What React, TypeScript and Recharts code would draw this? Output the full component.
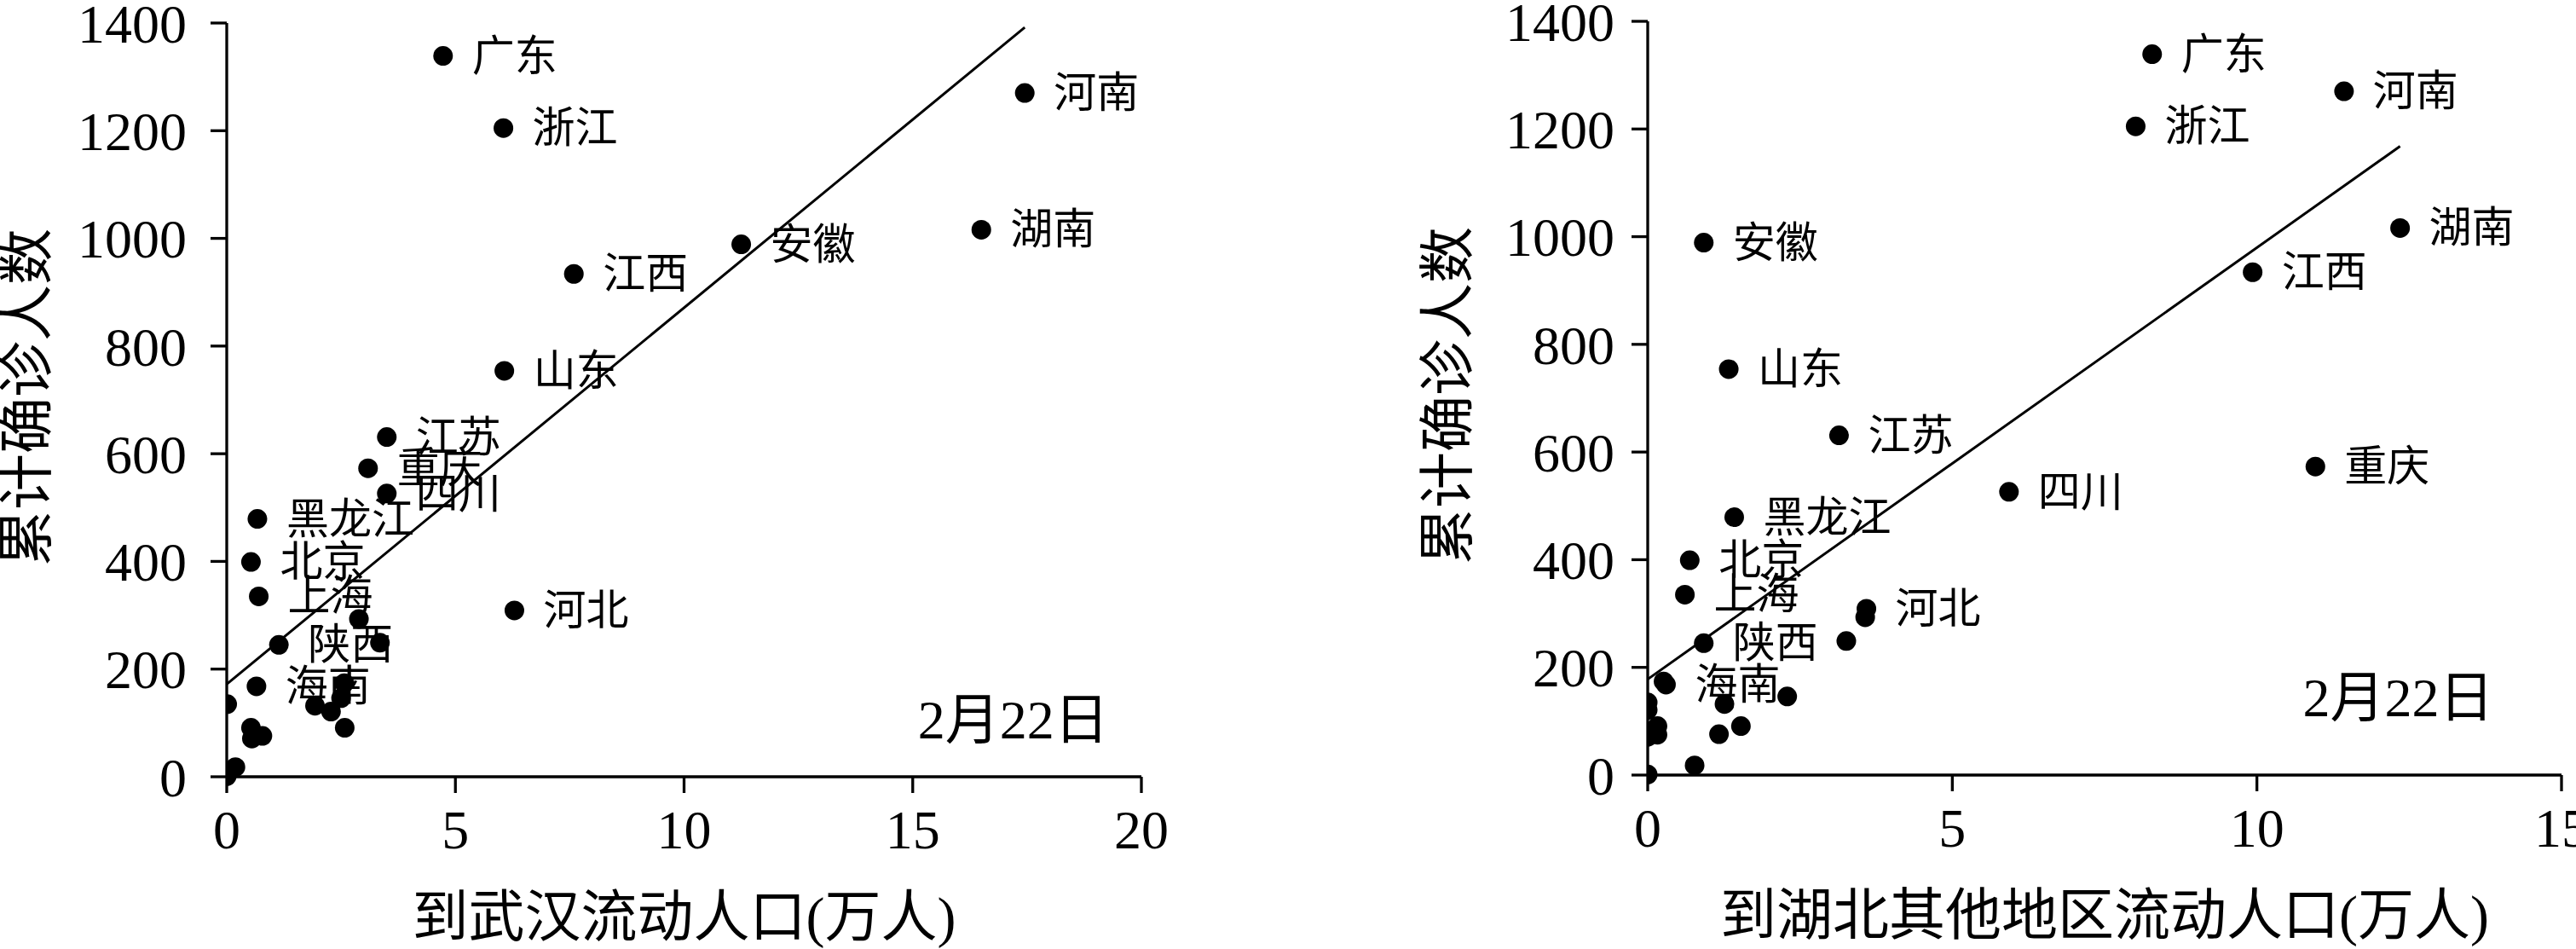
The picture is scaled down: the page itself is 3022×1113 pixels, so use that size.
import { ScatterChart, Scatter, XAxis, YAxis, ReferenceLine, ReferenceDot, Label } from 'recharts';

// 各省累计确诊（2月22日）与流动人口（万人），按确诊数降序
const provinces = [
  '广东', '河南', '浙江', '湖南', '安徽', '江西', '山东', '江苏', '重庆', '四川',
  '黑龙江', '北京', '上海', '河北', '福建', '广西', '陕西', '云南', '海南', '贵州',
  '天津', '山西', '辽宁', '吉林', '甘肃', '新疆', '内蒙古', '宁夏', '青海', '西藏',
];
const confirmed = [
  1339, 1270, 1205, 1016, 989, 934, 754, 631, 573, 526,
  479, 399, 335, 309, 293, 249, 245, 174, 168, 146,
  135, 132, 121, 91, 91, 76, 75, 71, 18, 1,
];
const toWuhan = [
  4.73, 17.45, 6.05, 16.5, 11.25, 7.59, 6.07, 3.5, 3.09, 3.5,
  0.67, 0.53, 0.7, 6.29, 2.89, 3.35, 1.14, 2.57, 0.65, 2.5,
  0.01, 1.93, 2.28, 0.53, 2.58, 0.78, 0.59, 0.55, 0.19, 0,
];
const toOtherHubei = [
  8.28, 11.43, 8.01, 12.35, 0.92, 9.93, 1.33, 3.14, 10.96, 5.93,
  1.42, 0.69, 0.61, 3.59, 3.57, 3.26, 0.92, 0.26, 0.3, 2.29,
  0, 1.26, 0, 0.16, 1.53, 1.17, 0.16, 0, 0.77, 0,
];
// 图中标注名称的省份
const labelled = [
  '广东', '河南', '浙江', '湖南', '安徽', '江西', '山东', '江苏', '重庆', '四川',
  '黑龙江', '北京', '上海', '河北', '陕西', '海南',
];

// 拟合直线两端点
const wuhanFitX = [0, 17.45];
const wuhanFitY = [172, 1392];
const hubeiFitX = [0, 12.35];
const hubeiFitY = [178, 1168];

const yTicks = [0, 200, 400, 600, 800, 1000, 1200, 1400];
const wuhanTicks = [0, 5, 10, 15, 20];
const hubeiTicks = [0, 5, 10, 15];

const yTitle = '累计确诊人数';
const wuhanTitle = '到武汉流动人口(万人)';
const hubeiTitle = '到湖北其他地区流动人口(万人)';
const dateText = '2月22日';
const wuhanDatePos = [17.2, 108];
const hubeiDatePos = [12.32, 145];

// Times 风格数字 + 中文回退
const FONT = "'Liberation Serif', 'Times New Roman', 'DejaVu Serif', 'Noto Sans CJK SC', serif";
const AXIS = { stroke: '#000', strokeWidth: 3.3 };

type Pt = { x: number; y: number; name: string; show: boolean };

function buildData(xs: number[]): Pt[] {
  return provinces.map((name, i) => ({
    x: xs[i],
    y: confirmed[i],
    name,
    show: labelled.includes(name),
  }));
}

function DotWithName(props: any) {
  const { cx, cy, payload } = props;
  if (cx == null || cy == null) return null;
  return (
    <g>
      <circle cx={cx} cy={cy} r={11.5} fill="#000" />
      {payload?.show ? (
        <text
          x={cx + 34}
          y={cy}
          dominantBaseline="central"
          fontSize={50}
          style={{ fontFamily: FONT }}
          fill="#000"
        >
          {payload.name}
        </text>
      ) : null}
    </g>
  );
}

type PanelProps = {
  left: number;
  width: number;
  axisWidth: number;
  rightMargin: number;
  top: number;
  xMax: number;
  xTicks: number[];
  xs: number[];
  fitX: number[];
  fitY: number[];
  xTitle: string;
  datePos: number[];
  yTickMargin: number;
};

function Panel(p: PanelProps) {
  const data = buildData(p.xs);
  const tickStyle = { fontSize: 64, fill: '#000', style: { fontFamily: FONT } };
  return (
    <div
      style={{
        position: 'absolute',
        left: p.left,
        top: 0,
        width: p.width,
        height: 1113,
        fontFamily: FONT,
      }}
    >
      <ScatterChart
        width={p.width}
        height={1113}
        margin={{ top: p.top, right: p.rightMargin, bottom: 0, left: 0 }}
        style={{ fontFamily: FONT }}
      >
        <XAxis
          type="number"
          dataKey="x"
          domain={[0, p.xMax]}
          ticks={p.xTicks}
          allowDataOverflow
          height={1113 - p.top - 884}
          axisLine={AXIS}
          tickLine={AXIS}
          tickSize={19}
          tickMargin={20}
          tick={tickStyle}
          interval={0}
        >
          <Label
            content={(lp: any) => {
              const vb = lp.viewBox || {};
              return (
                <text
                  x={vb.x + vb.width / 2}
                  y={vb.y + 164}
                  textAnchor="middle"
                  dominantBaseline="central"
                  fontSize={66}
                  style={{ fontFamily: FONT }}
                  fill="#000"
                >
                  {p.xTitle}
                </text>
              );
            }}
          />
        </XAxis>
        <YAxis
          type="number"
          dataKey="y"
          domain={[0, 1400]}
          ticks={yTicks}
          width={p.axisWidth}
          axisLine={AXIS}
          tickLine={AXIS}
          tickSize={19}
          tickMargin={p.yTickMargin}
          tick={tickStyle}
          interval={0}
        >
          <Label
            content={(lp: any) => {
              const vb = lp.viewBox || {};
              const cx = vb.x + vb.width - 235;
              const cy = vb.y + vb.height / 2 - 3;
              return (
                <text
                  x={cx}
                  y={cy}
                  transform={`rotate(-90 ${cx} ${cy})`}
                  textAnchor="middle"
                  dominantBaseline="central"
                  fontSize={66}
                  style={{ fontFamily: FONT }}
                  fill="#000"
                >
                  {yTitle}
                </text>
              );
            }}
          />
        </YAxis>
        <ReferenceLine
          segment={[
            { x: p.fitX[0], y: p.fitY[0] },
            { x: p.fitX[1], y: p.fitY[1] },
          ]}
          stroke="#000"
          strokeWidth={3}
        />
        <ReferenceDot
          x={p.datePos[0]}
          y={p.datePos[1]}
          r={0}
          fill="none"
          stroke="none"
          label={{
            value: dateText,
            position: 'center',
            fontSize: 64,
            fill: '#000',
            style: { fontFamily: FONT },
          }}
        />
        <Scatter data={data} shape={DotWithName} isAnimationActive={false} />
      </ScatterChart>
    </div>
  );
}

export default function App() {
  return (
    <div
      style={{
        position: 'absolute',
        left: 0,
        top: 0,
        width: 3022,
        height: 1113,
        background: '#fff',
        overflow: 'hidden',
      }}
    >
      <Panel
        left={0}
        width={1510}
        axisWidth={266}
        rightMargin={1510 - 266 - 1073}
        top={27}
        xMax={20}
        xTicks={wuhanTicks}
        xs={toWuhan}
        fitX={wuhanFitX}
        fitY={wuhanFitY}
        xTitle={wuhanTitle}
        datePos={wuhanDatePos}
        yTickMargin={28}
      />
      <Panel
        left={1510}
        width={1512}
        axisWidth={423}
        rightMargin={1512 - 423 - 1072}
        top={25}
        xMax={15}
        xTicks={hubeiTicks}
        xs={toOtherHubei}
        fitX={hubeiFitX}
        fitY={hubeiFitY}
        xTitle={hubeiTitle}
        datePos={hubeiDatePos}
        yTickMargin={20}
      />
    </div>
  );
}
